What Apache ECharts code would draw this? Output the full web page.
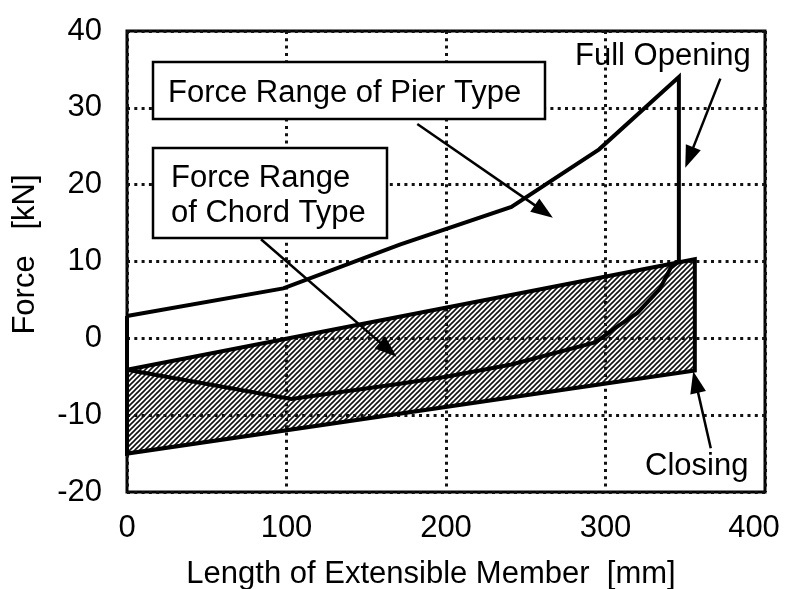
<!DOCTYPE html>
<html>
<head>
<meta charset="utf-8">
<script src="https://cdn.jsdelivr.net/npm/echarts@6/dist/echarts.min.js"></script>
<style>
html, body { margin: 0; padding: 0; background: #fff; }
#chart { width: 785px; height: 589px; }
</style>
</head>
<body>
<div id="chart"></div>
<script>
// axis ticks
var xTicks = [0, 100, 200, 300, 400];
var yTicks = [-20, -10, 0, 10, 20, 30, 40];

// force range of pier type: upper curve up to full opening, lower curve back to 0
var pierUpper = [[0, 2.9], [98, 6.5], [171, 12.2], [241, 17.1], [296, 24.6], [346, 34]];
var pierLower = [[0, -4.1], [103, -7.9], [171, -5.9], [200, -5.0], [241, -3.4], [294, -0.5],
                 [305, 1.2], [320, 3.3], [334, 6.4], [341, 9.2], [346, 10]];

// force range of chord type (hatched)
var chordUpper = [[0, -4.1], [356, 10.3]];
var chordLower = [[0, -15], [356, -4.2]];

// arrows: [fromX, fromY, toX, toY]
var arrows = [
  [182, 27.9, 267, 15.7],   // pier label
  [84, 12.9, 169, -2.4],    // chord label
  [372, 33.8, 350, 22.2],   // full opening
  [366, -14.3, 355, -4.3]   // closing
];

var pierOutline = pierUpper.concat(pierLower.slice().reverse()).concat([pierUpper[0]]);
var chordPoly = chordUpper.concat(chordLower.slice().reverse());

var FONT = '"Liberation Sans", Arial, sans-serif';
var FS = 31;

// hatch pattern
var hatch = document.createElement('canvas');
hatch.width = 5; hatch.height = 5;
var hc = hatch.getContext('2d');
hc.strokeStyle = '#111';
hc.lineWidth = 1.6;
hc.beginPath();
hc.moveTo(0, 5); hc.lineTo(5, 0);
hc.moveTo(-1, 1); hc.lineTo(1, -1);
hc.moveTo(4, 6); hc.lineTo(6, 4);
hc.stroke();

var chart = echarts.init(document.getElementById('chart'));

var dotted = { color: '#111', width: 3, type: [3, 4.3] };

var option = {
  backgroundColor: '#fff',
  animation: false,
  grid: {
    left: 127, right: 20, top: 31, bottom: 97,
    outerBoundsMode: 'none',
    show: true, borderColor: '#000', borderWidth: 3, backgroundColor: 'transparent'
  },
  xAxis: {
    type: 'value', min: xTicks[0], max: xTicks[xTicks.length - 1], interval: 100,
    name: 'Length of Extensible Member  [mm]',
    nameLocation: 'middle', nameGap: 67,
    nameTextStyle: { fontFamily: FONT, fontSize: FS, color: '#000', padding: [0, 30, 0, 0] },
    axisLine: { show: false }, axisTick: { show: false },
    axisLabel: {
      fontFamily: FONT, fontSize: FS, color: '#000', margin: 21,
      formatter: function (v) { return v === 400 ? '{r|' + v + '}' : String(v); },
      rich: { r: { fontFamily: FONT, fontSize: FS, color: '#000', padding: [0, 22, 0, 0] } }
    },
    splitLine: { show: true, lineStyle: dotted }
  },
  yAxis: {
    type: 'value', min: yTicks[0], max: yTicks[yTicks.length - 1], interval: 10,
    name: 'Force   [kN]',
    nameLocation: 'middle', nameGap: 86, nameRotate: 90,
    nameTextStyle: { fontFamily: FONT, fontSize: FS, color: '#000', padding: [0, 0, 0, 14] },
    axisLine: { show: false }, axisTick: { show: false },
    axisLabel: { fontFamily: FONT, fontSize: FS, color: '#000', margin: 25 },
    splitLine: { show: true, lineStyle: dotted }
  },
  series: [
    {
      type: 'custom',
      data: chordPoly,
      z: 3,
      renderItem: function (params, api) {
        if (params.dataIndex !== 0) return;
        var pts = chordPoly.map(function (p) { return api.coord(p); });
        return {
          type: 'polygon',
          shape: { points: pts },
          style: { fill: { image: hatch, repeat: 'repeat' }, stroke: '#000', lineWidth: 4, lineJoin: 'miter' }
        };
      }
    },
    {
      type: 'line',
      data: pierOutline,
      z: 4,
      symbol: 'none',
      lineStyle: { color: '#000', width: 4, join: 'miter' }
    },
    {
      type: 'custom',
      data: arrows,
      z: 5,
      encode: { x: [0, 2], y: [1, 3] },
      renderItem: function (params, api) {
        var a = api.coord([api.value(0), api.value(1)]);
        var b = api.coord([api.value(2), api.value(3)]);
        var dx = b[0] - a[0], dy = b[1] - a[1];
        var len = Math.sqrt(dx * dx + dy * dy);
        var ux = dx / len, uy = dy / len;
        var hl = 22, hw = 8;
        var bx = b[0] - ux * hl, by = b[1] - uy * hl;
        return {
          type: 'group',
          children: [
            { type: 'line', shape: { x1: a[0], y1: a[1], x2: bx + ux * 3, y2: by + uy * 3 },
              style: { stroke: '#000', lineWidth: 2.5 } },
            { type: 'polygon',
              shape: { points: [b, [bx - uy * hw, by + ux * hw], [bx + uy * hw, by - ux * hw]] },
              style: { fill: '#000' } }
          ]
        };
      }
    }
  ],
  graphic: [
    { type: 'rect', z: 100, shape: { x: 153, y: 62, width: 392, height: 57 },
      style: { fill: '#fff', stroke: '#000', lineWidth: 2.5 } },
    { type: 'text', z: 101,
      style: { x: 168, y: 93, text: 'Force Range of Pier Type', fill: '#000', font: FS + 'px ' + FONT, verticalAlign: 'middle' } },
    { type: 'rect', z: 100, shape: { x: 153, y: 148, width: 234, height: 90 },
      style: { fill: '#fff', stroke: '#000', lineWidth: 2.5 } },
    { type: 'text', z: 101,
      style: { x: 171, y: 178, text: 'Force Range', fill: '#000', font: FS + 'px ' + FONT, verticalAlign: 'middle' } },
    { type: 'text', z: 101,
      style: { x: 171, y: 213, text: 'of Chord Type', fill: '#000', font: FS + 'px ' + FONT, verticalAlign: 'middle' } },
    { type: 'text', z: 101,
      style: { x: 575, y: 56, text: 'Full Opening', fill: '#000', font: FS + 'px ' + FONT, verticalAlign: 'middle' } },
    { type: 'text', z: 101,
      style: { x: 645, y: 466, text: 'Closing', fill: '#000', font: FS + 'px ' + FONT, verticalAlign: 'middle' } }
  ]
};

chart.setOption(option);
</script>
</body>
</html>
